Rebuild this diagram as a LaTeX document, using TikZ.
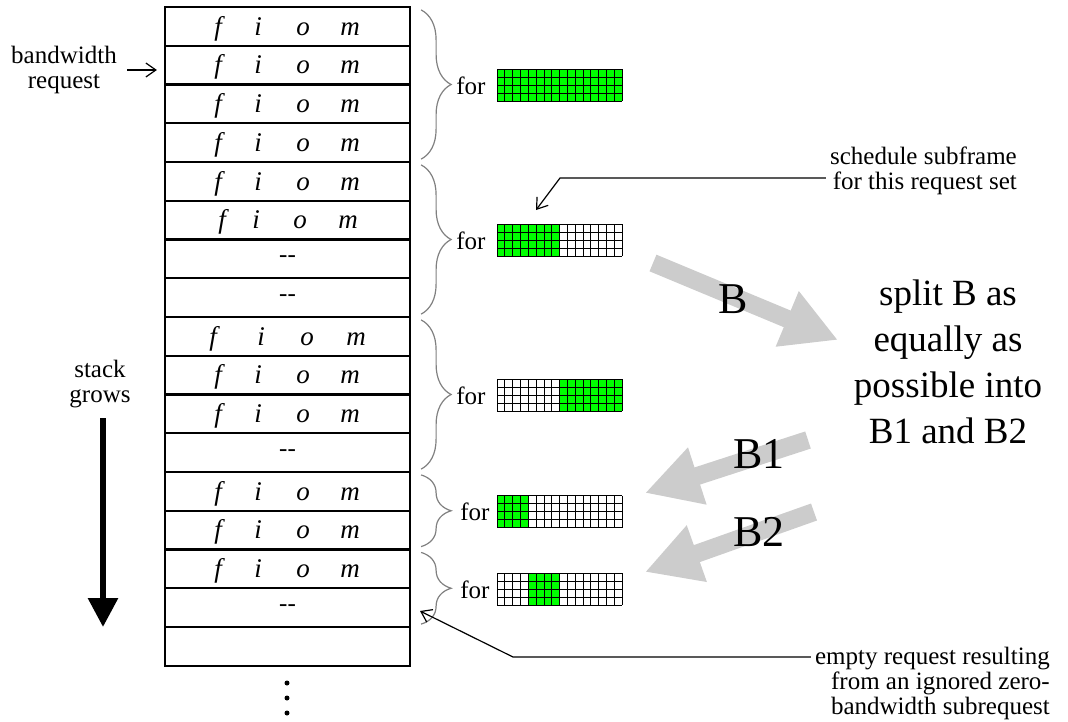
\documentclass[tikz,border=0pt]{standalone}
\usepackage{fontspec}
\setmainfont{Liberation Serif}
\usetikzlibrary{arrows.meta,decorations.pathreplacing,positioning}

\definecolor{slotgreen}{RGB}{0,255,0}
\definecolor{fatgray}{RGB}{204,204,204}

% one subframe: 16 x 4 slots, columns #2..#3 in use
\newcommand{\slotgrid}[3]{%
  \begin{scope}[shift={(#1.north west)}]
    \fill[slotgreen] (7.8125*#2,0) rectangle (7.8125*#3,32);
    \foreach \col in {0,...,16} \draw[cell] (7.8125*\col,0) -- (7.8125*\col,32);
    \foreach \lin in {0,...,4} \draw[cell] (0,8*\lin) -- (125,8*\lin);
  \end{scope}}

\begin{document}
\begin{tikzpicture}[x=1pt,y=-1pt,
  row/.style={draw,line width=2.2pt,minimum width=245pt,minimum height=38.75pt,inner sep=0pt},
  txt/.style={font=\fontsize{25}{25}\selectfont,inner sep=0pt},
  fiom/.style={font=\fontsize{27}{23}\selectfont\itshape,inner sep=0pt,anchor=base},
  grp/.style={draw=gray,line width=1.2pt,decorate,decoration={brace,amplitude=30pt}},
  subframe/.style={minimum width=125pt,minimum height=32pt,inner sep=0pt,anchor=west},
  cell/.style={line width=0.7pt},
  pointer/.style={line width=1.2pt,-{Straight Barb[length=10pt,width=14pt]}},
  fat/.style={fatgray,line width=18pt,-{Triangle[length=55pt,width=56pt]}},
  big/.style={font=\fontsize{44}{44}\selectfont,inner sep=0pt}]
  \useasboundingbox (0,0) rectangle (1068,721);

  % the request stack
  \foreach \k in {0,...,16}
    \node[row] (r\k) at (287.5,26.375+38.75*\k) {};
  \foreach \k/\xf/\xi/\xo/\xm in {0/218/258/303/350,1/218/258/303/350,
      2/218/258/303/350,3/218/258/303/350,4/218/258/303/350,5/222/256/300/348,
      8/213/261/307/356,9/218/258/303/350,10/218/258/303/350,
      12/218/258/303/350,13/218/258/303/350,14/218/258/303/350} {
    \node[fiom] (f\k) at (\xf,35+38.75*\k) {f};
    \node[fiom] (i\k) at (\xi,35+38.75*\k) {i};
    \node[fiom] (o\k) at (\xo,35+38.75*\k) {o};
    \node[fiom] (m\k) at (\xm,35+38.75*\k) {m};
  }
  \foreach \k in {6,7,11,15}
    \node[txt] (d\k) at (287.5,26.375+38.75*\k) {-{}-};
  \foreach \d in {683,698,713}
    \fill (287,\d) circle (2.5pt);

  % request sets
  \draw[grp] ([xshift=10pt,yshift=-4pt]r0.north east) -- ([xshift=10pt,yshift=4pt]r3.south east);
  \draw[grp] ([xshift=10pt,yshift=-4pt]r4.north east) -- ([xshift=10pt,yshift=4pt]r7.south east);
  \draw[grp] ([xshift=10pt,yshift=-4pt]r8.north east) -- ([xshift=10pt,yshift=4pt]r11.south east);
  \draw[grp] ([xshift=10pt,yshift=-4pt]r12.north east) -- ([xshift=10pt,yshift=4pt]r13.south east);
  \draw[grp] ([xshift=10pt,yshift=-4pt]r14.north east) -- ([xshift=10pt,yshift=4pt]r15.south east);
  \node[txt,anchor=west,xshift=45pt] (for1) at (r1.south east) {for};
  \node[txt,anchor=west,xshift=45pt] (for2) at (r5.south east) {for};
  \node[txt,anchor=west,xshift=45pt] (for3) at (r9.south east) {for};
  \node[txt,anchor=west,xshift=49pt] (for4) at (r12.south east) {for};
  \node[txt,anchor=west,xshift=49pt] (for5) at (r14.south east) {for};

  % subframes
  \coordinate (gridx) at (497,0);
  \node[subframe] (sf1) at (for1 -| gridx) {};
  \node[subframe] (sf2) at (for2 -| gridx) {};
  \node[subframe] (sf3) at (for3 -| gridx) {};
  \node[subframe] (sf4) at (for4 -| gridx) {};
  \node[subframe] (sf5) at (for5 -| gridx) {};
  \slotgrid{sf1}{0}{16}
  \slotgrid{sf2}{0}{8}
  \slotgrid{sf3}{8}{16}
  \slotgrid{sf4}{0}{4}
  \slotgrid{sf5}{4}{8}

  % splitting
  \coordinate (btail) at (653,263);
  \coordinate (btip) at (838,340);
  \coordinate (bonetail) at (808,440);
  \coordinate (bonetip) at (645,493);
  \coordinate (btwotail) at (814,512);
  \coordinate (btwotip) at (645,572);
  \draw[fat] (btail) -- (btip);
  \draw[fat] (bonetail) -- (bonetip);
  \draw[fat] (btwotail) -- (btwotip);
  \node[big] (blab) at (733,299) {B};
  \node[big] (bonelab) at (759,454) {B1};
  \node[big] (btwolab) at (759,532) {B2};
  \node[font=\fontsize{37}{46}\selectfont,align=center,inner sep=0pt] (split) at (948,362)
    {split B as\\equally as\\possible into\\B1 and B2};

  % left labels
  \node[txt,align=center] (bwlbl) at (64,70) {bandwidth\\request};
  \coordinate (bwtail) at (127,70);
  \draw[pointer] (bwtail) -- ([xshift=-7pt]r1.west |- bwtail);
  \node[txt,align=center] (growlbl) at (100,384) {stack\\grows};
  \coordinate (growtail) at (103,418);
  \coordinate (growtip) at (103,627);
  \draw[line width=6pt,-{Triangle[length=29pt,width=29pt]}] (growtail) -- (growtip);

  % right notes
  \node[txt,align=right,anchor=east] (schedlbl) at (1017,171) {schedule subframe\\for this request set};
  \coordinate (schedbend) at (560,178);
  \coordinate (schedtip) at (536,210);
  \draw[pointer] ([xshift=-4pt]schedlbl.west |- schedbend) -- (schedbend) -- (schedtip);
  \node[txt,align=right,anchor=east] (emptylbl) at (1050,683)
    {empty request resulting\\from an ignored zero-\\bandwidth subrequest};
  \coordinate (emptybend) at (513,657);
  \coordinate (emptytip) at (420,611);
  \draw[pointer] ([xshift=-4pt]emptylbl.west |- emptybend) -- (emptybend) -- (emptytip);
\end{tikzpicture}
\end{document}
